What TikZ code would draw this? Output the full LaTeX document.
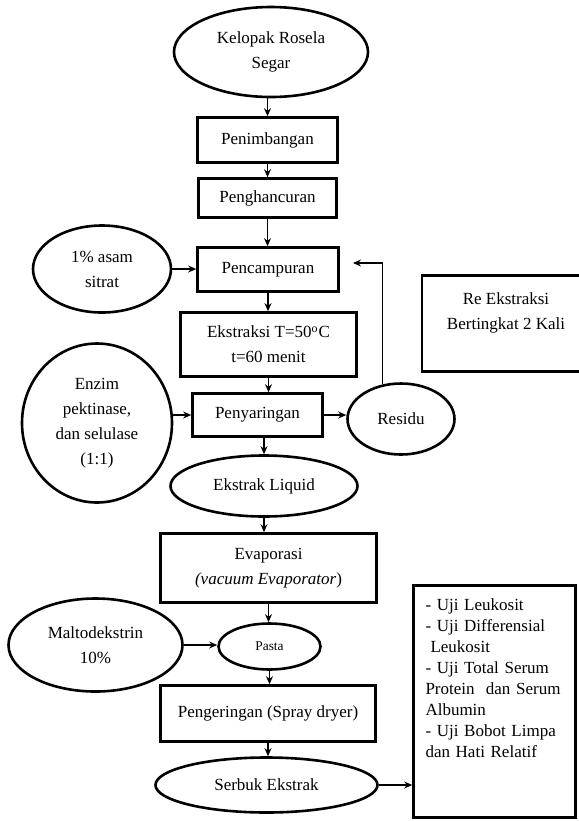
\documentclass[tikz,border=0pt]{standalone}
\usepackage{fontspec}
\setmainfont{Liberation Serif}
\usepackage{tikz}
\usetikzlibrary{shapes,arrows.meta,calc}

\begin{document}
\begin{tikzpicture}[x=0.5pt,y=-0.5pt,
    prosesbox/.style={draw,line width=1.3pt,rectangle,inner sep=0pt,align=center,
      font=\fontsize{8.5}{12.5}\selectfont},
    bahan/.style={draw,line width=1.3pt,ellipse,inner sep=0pt,align=center,
      font=\fontsize{8.5}{12.5}\selectfont},
    panah/.style={-{Stealth[length=4pt,width=3.5pt]},line width=0.6pt}]
\useasboundingbox (0,0) rectangle (579,821);
% alur utama
\node[bahan,minimum width=97pt,minimum height=45pt] (kelopak) at (271,52) {Kelopak Rosela\\Segar};
\node[prosesbox,minimum width=70pt,minimum height=22.5pt] (timbang) at (267.5,140) {Penimbangan};
\node[prosesbox,minimum width=69pt,minimum height=19.5pt] (hancur) at (267.5,198) {Penghancuran};
\node[prosesbox,minimum width=70.5pt,minimum height=22pt] (campur) at (268,269.5) {Pencampuran};
\node[prosesbox,minimum width=88pt,minimum height=32pt] (ekstraksi) at (268.5,344.5) {Ekstraksi T=50\textsuperscript{o}C\\t=60 menit};
\node[prosesbox,minimum width=65pt,minimum height=21.5pt] (saring) at (257.5,415) {Penyaringan};
\node[bahan,minimum width=93.5pt,minimum height=30.5pt] (liquid) at (264,486) {Ekstrak Liquid};
\node[prosesbox,minimum width=108pt,minimum height=34.5pt] (evaporasi) at (268.5,568) {Evaporasi\\\textit{(vacuum Evaporator})};
\node[bahan,minimum width=51pt,minimum height=23pt,font=\fontsize{6.7}{8}\selectfont] (pasta) at (269.5,646.5) {Pasta};
\node[prosesbox,minimum width=107.5pt,minimum height=28pt] (kering) at (268,713.5) {Pengeringan (Spray dryer)};
\node[bahan,minimum width=111pt,minimum height=27.5pt] (serbuk) at (266.5,785) {Serbuk Ekstrak};
% bahan tambahan
\node[bahan,minimum width=69pt,minimum height=43.5pt] (sitrat) at (102,269) {1\% asam\\sitrat};
\node[bahan,minimum width=75pt,minimum height=79.5pt] (enzim) at (97,423) {Enzim\\pektinase,\\dan selulase\\(1:1)};
\node[bahan,minimum width=53.5pt,minimum height=35.5pt] (residu) at (401,419) {Residu};
\node[bahan,minimum width=87pt,minimum height=46.5pt] (malto) at (95.5,645) {Maltodekstrin\\10\%};
% keterangan
\node[prosesbox,minimum width=84pt,minimum height=48pt] (reekstraksi) at (506,323.5) {Re Ekstraksi\\Bertingkat 2 Kali\\\mbox{}};
\node[prosesbox,align=left,text width=69pt,inner xsep=6pt,minimum height=116pt,
      font=\fontsize{8.5}{10.5}\selectfont] (uji) at (494.5,701.5)
  {- Uji Leukosit\\- Uji Differensial\\\hspace{2.5pt}Leukosit\\- Uji Total Serum\\Protein~ dan Serum\\Albumin\\- Uji Bobot Limpa\\dan Hati Relatif\\[12.5pt]\mbox{}};
% panah
\draw[panah] (timbang.north |- kelopak.south) -- (timbang.north);
\draw[panah] (timbang.south) -- (hancur.north);
\draw[panah] (hancur.south) -- (hancur.south |- campur.north);
\draw[panah] (sitrat.east) -- (sitrat.east -| campur.west);
\draw[panah] (campur.south) -- (campur.south |- ekstraksi.north);
\draw[panah] (ekstraksi.south) -- (ekstraksi.south |- saring.north);
\draw[panah] (enzim.east |- saring.west) -- (saring.west);
\draw[panah] (saring.east) -- (saring.east -| residu.west);
\coordinate (balik) at (353,263);
\draw[panah] (residu.118) |- (balik);
\draw[panah] (liquid.north |- saring.south) -- (liquid.north);
\draw[panah] (liquid.south) -- (liquid.south |- evaporasi.north);
\draw[panah] (evaporasi.south) -- (evaporasi.south |- pasta.north);
\draw[panah] (malto.east) -- (malto.east -| pasta.west);
\draw[panah] (pasta.south) -- (pasta.south |- kering.north);
\draw[panah] (kering.south) -- (kering.south |- serbuk.north);
\draw[panah] (serbuk.east) -- (serbuk.east -| uji.west);
\end{tikzpicture}
\end{document}
